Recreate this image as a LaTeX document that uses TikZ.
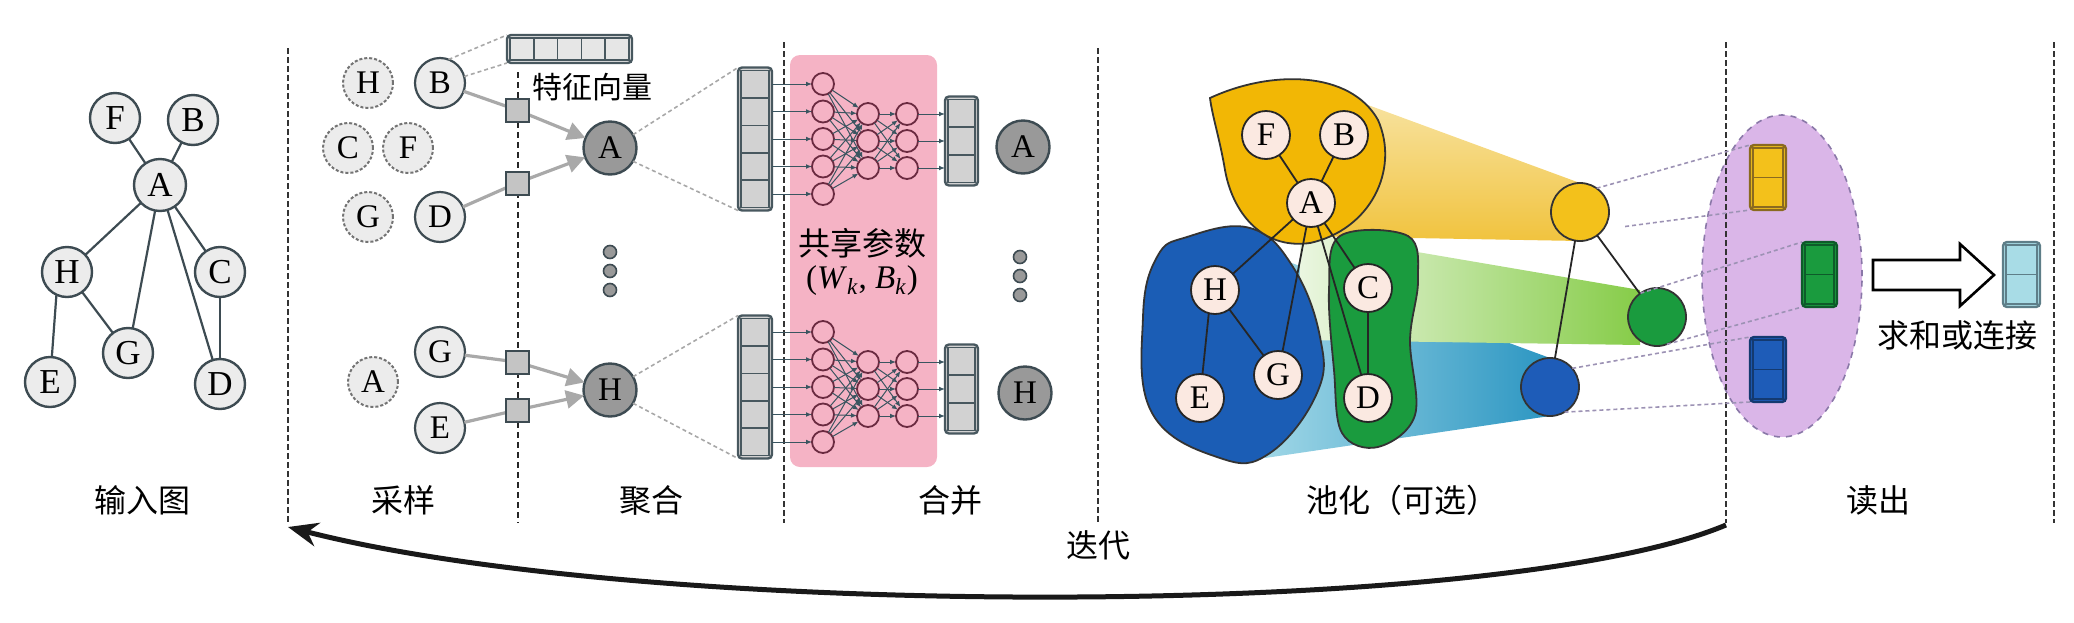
\documentclass[tikz,border=0pt]{standalone}
\usepackage{fontspec}
\setmainfont{Liberation Serif}
\newfontfamily\cjk{Noto Sans CJK SC}
\usetikzlibrary{arrows.meta,shapes.geometric,calc}
\definecolor{nodegray}{HTML}{ECECEC}
\definecolor{nodeline}{HTML}{3D4B52}
\definecolor{darknode}{HTML}{999999}
\definecolor{sqfill}{HTML}{C4C4C4}
\definecolor{arrowgray}{HTML}{A9A9A9}
\definecolor{projgray}{HTML}{A8A8A8}
\definecolor{vecline}{HTML}{48585F}
\definecolor{vecfill}{HTML}{D2D2D2}
\definecolor{fvfill}{HTML}{E6E6E6}
\definecolor{pinkbg}{HTML}{F5B3C5}
\definecolor{nncirc}{HTML}{6A2A40}
\definecolor{nnline}{HTML}{3A5560}
\definecolor{peach}{HTML}{FBE9E1}
\definecolor{blobyellow}{HTML}{F2B705}
\definecolor{blobblue}{HTML}{1B5DB5}
\definecolor{blobgreen}{HTML}{1A9B3E}
\definecolor{circY}{HTML}{F3C11B}
\definecolor{circG}{HTML}{1A9B3E}
\definecolor{circB}{HTML}{1E5CB8}
\definecolor{lilac}{HTML}{DAB6E8}
\definecolor{ellline}{HTML}{8A78A8}
\definecolor{rdline}{HTML}{9C92B4}
\definecolor{resfill}{HTML}{A8DCE6}
\definecolor{resline}{HTML}{5E7E88}
\definecolor{yfanT}{HTML}{F8E7AE}
\definecolor{yfanB}{HTML}{F1C33E}
\definecolor{gfanL}{HTML}{EAF6E0}
\definecolor{gfanR}{HTML}{86CC48}
\definecolor{bfanL}{HTML}{9ED6E6}
\definecolor{bfanR}{HTML}{2C96C2}
\definecolor{vyline}{HTML}{8A6A20}
\definecolor{vgline}{HTML}{0E5A2A}
\definecolor{vbline}{HTML}{143A70}

% horizontal cells: name, cx, cy, w, h, n, fill, line
\newcommand{\hvecbox}[8]{%
  \node[vecbox, draw=#8, fill=#7, minimum width={(#4)*0.5pt}, minimum height={(#5)*0.5pt}] (#1) at (#2,#3) {};
  \pgfmathsetmacro\vxa{#2-#4/2+3}\pgfmathsetmacro\vya{#3-#5/2+3}%
  \pgfmathsetmacro\vxb{#2+#4/2-3}\pgfmathsetmacro\vyb{#3+#5/2-3}%
  \draw[cellline, draw=#8] (\vxa,\vya) rectangle (\vxb,\vyb);
  \pgfmathtruncatemacro\vnm{#6-1}%
  \foreach \k in {1,...,\vnm}{\pgfmathsetmacro\vxk{\vxa+\k*(\vxb-\vxa)/#6}\draw[cellline, draw=#8] (\vxk,\vya) -- (\vxk,\vyb);}
}
% vertical cells
\newcommand{\vvecbox}[8]{%
  \node[vecbox, draw=#8, fill=#7, minimum width={(#4)*0.5pt}, minimum height={(#5)*0.5pt}] (#1) at (#2,#3) {};
  \pgfmathsetmacro\vxa{#2-#4/2+3}\pgfmathsetmacro\vya{#3-#5/2+3}%
  \pgfmathsetmacro\vxb{#2+#4/2-3}\pgfmathsetmacro\vyb{#3+#5/2-3}%
  \draw[cellline, draw=#8] (\vxa,\vya) rectangle (\vxb,\vyb);
  \pgfmathtruncatemacro\vnm{#6-1}%
  \foreach \k in {1,...,\vnm}{\pgfmathsetmacro\vyk{\vya+\k*(\vyb-\vya)/#6}\draw[cellline, draw=#8] (\vxa,\vyk) -- (\vxb,\vyk);}
}

\begin{document}
\begin{tikzpicture}[x=0.5pt,y=-0.5pt,
  every node/.style={inner sep=0pt, outer sep=0pt},
  gnode/.style={circle, draw=nodeline, line width=1.2pt, fill=nodegray, minimum size=25pt, font=\fontsize{17.5}{17.5}\selectfont},
  gedge/.style={draw=nodeline, line width=1.1pt},
  snode/.style={circle, draw=nodeline, line width=1.1pt, fill=nodegray, minimum size=25pt, font=\fontsize{16.5}{16.5}\selectfont},
  sdash/.style={snode, draw=black!55, dash pattern=on 1.5pt off 1pt, line width=1pt},
  tnode/.style={circle, draw=nodeline, line width=1.2pt, fill=darknode, minimum size=26.5pt, font=\fontsize{16.5}{16.5}\selectfont},
  sqbox/.style={rectangle, draw=nodeline, line width=1pt, fill=sqfill, minimum size=11.5pt},
  garrow/.style={draw=arrowgray, line width=1.6pt, -{Triangle[length=9pt,width=9pt]}},
  dotn/.style={circle, draw=nodeline, fill=darknode, line width=0.8pt, minimum size=6.5pt},
  proj/.style={draw=projgray, line width=0.8pt, dash pattern=on 2pt off 1.5pt},
  rproj/.style={draw=rdline, line width=0.8pt, dash pattern=on 2pt off 1.5pt},
  sepline/.style={draw=black!80, line width=1.3pt, dash pattern=on 3pt off 1.5pt},
  thinsep/.style={draw=black!85, line width=1pt, dash pattern=on 3pt off 2pt},
  vecbox/.style={rectangle, rounded corners=2pt, line width=1.2pt},
  cellline/.style={line width=0.8pt},
  nnc/.style={circle, draw=nncirc, line width=0.9pt, minimum size=11pt},
  nnarr/.style={draw=nnline, line width=0.5pt, -{Latex[length=3pt,width=2.4pt]}},
  pnode/.style={circle, draw=black!85, line width=0.9pt, fill=peach, minimum size=24pt, font=\fontsize{16.5}{16.5}\selectfont},
  pedge/.style={draw=black!85, line width=0.9pt},
  blob/.style={draw=black!80, line width=0.9pt},
  pool/.style={circle, draw=black!80, line width=0.9pt, minimum size=29pt},
  cjklab/.style={font=\cjk\fontsize{16}{16}\selectfont},
  iterarrow/.style={draw=black!90, line width=2.5pt, -{Stealth[length=15pt,width=12pt]}}
]
\useasboundingbox (0,0) rectangle (2074,622);

% ---------- separators ----------
\draw[sepline] (288,48) -- (288,523);
\draw[thinsep] (518,72) -- (518,523);
\draw[sepline] (784,42) -- (784,523);
\draw[sepline] (1098,48) -- (1098,523);
\draw[sepline] (2054,42) -- (2054,523);

% ---------- input graph ----------
\node[gnode] (gF) at (115,118) {F};
\node[gnode] (gB) at (193,120) {B};
\node[gnode, minimum size=26pt] (gA) at (160,185) {A};
\node[gnode] (gH) at (67,272) {H};
\node[gnode] (gC) at (220,272) {C};
\node[gnode] (gG) at (128,353) {G};
\node[gnode] (gE) at (50,382) {E};
\node[gnode] (gD) at (220,384) {D};
\draw[gedge] (gF) -- (gA);
\draw[gedge] (gB) -- (gA);
\draw[gedge] (gA) -- (gH);
\draw[gedge] (gA) -- (gG);
\draw[gedge] (gA) -- (gD);
\draw[gedge] (gA) -- (gC);
\draw[gedge] (gH.-115) -- (gE);
\draw[gedge] (gH) -- (gG);
\draw[gedge] (gC) -- (gD);

% ---------- sampling ----------
\node[sdash] (sH) at (368,83) {H};
\node[snode] (sB) at (440,83) {B};
\node[sdash] (sC) at (348,148) {C};
\node[sdash] (sF) at (408,148) {F};
\node[sdash] (sG) at (368,217) {G};
\node[snode] (sD) at (440,217) {D};
\node[snode] (sG2) at (440,352) {G};
\node[sdash] (sA) at (373,382) {A};
\node[snode] (sE) at (440,428) {E};
\node[tnode] (tA) at (610,148) {A};
\node[tnode] (tH) at (610,390) {H};
\node[sqbox] (q1) at (517,110) {};
\node[sqbox] (q2) at (517,183) {};
\node[sqbox] (q3) at (517,362) {};
\node[sqbox] (q4) at (517,410) {};
\draw[garrow] (sB) -- (q1) -- (tA);
\draw[garrow] (sD) -- (q2) -- (tA);
\draw[garrow] (sG2) -- (q3) -- (tH);
\draw[garrow] (sE) -- (q4) -- (tH);
\node[sqbox] at (q1) {};
\node[sqbox] at (q2) {};
\node[sqbox] at (q3) {};
\node[sqbox] at (q4) {};
\node[dotn] (d1) at (610,252) {};
\node[dotn] (d2) at (610,271) {};
\node[dotn] (d3) at (610,290) {};
\hvecbox{fv}{569.5}{49}{125}{28}{5}{fvfill}{vecline}
\draw[proj] (sB.70) -- (fv.north west);
\draw[proj] (sB.15) -- (fv.south west);
\node[cjklab, font=\cjk\fontsize{15}{15}\selectfont] (fvlab) at (592,87) {特征向量};

% ---------- aggregation / combine ----------
\node[fill=pinkbg, rounded corners=5pt, minimum width=73.5pt, minimum height=206pt] (share) at (863.5,261) {};
\vvecbox{V1}{755}{139}{34}{143}{5}{vecfill}{vecline}
\vvecbox{V2}{755}{387}{34}{143}{5}{vecfill}{vecline}
\vvecbox{O1}{961.5}{141}{33}{89}{3}{vecfill}{vecline}
\vvecbox{O2}{961.5}{389}{33}{89}{3}{vecfill}{vecline}
\draw[proj] (tA.30) -- (V1.north west);
\draw[proj] (tA.-30) -- (V1.south west);
\draw[proj] (tH.30) -- (V2.north west);
\draw[proj] (tH.-30) -- (V2.south west);

\foreach \off/\blk/\vin/\vout in {0/a/V1/O1, 248/b/V2/O2}{
  \foreach \i/\yy in {1/84,2/111.5,3/139,4/166.5,5/194}{
    \node[nnc] (n\blk1\i) at ({823},{\yy+\off}) {};
    \draw[nnarr] (\vin.east |- n\blk1\i) -- (n\blk1\i);
  }
  \foreach \j/\yy in {1/114,2/141,3/168}{
    \node[nnc] (n\blk2\j) at ({868},{\yy+\off}) {};
    \node[nnc] (n\blk3\j) at ({907},{\yy+\off}) {};
    \draw[nnarr] (n\blk3\j) -- (\vout.west |- n\blk3\j);
  }
  \foreach \i in {1,...,5}{\foreach \j in {1,2,3}{\draw[nnarr] (n\blk1\i) -- (n\blk2\j);}}
  \foreach \i in {1,2,3}{\foreach \j in {1,2,3}{\draw[nnarr] (n\blk2\i) -- (n\blk3\j);}}
}
\node[cjklab] (shtxt) at (862,243) {共享参数};
\node[font=\fontsize{16.5}{16.5}\selectfont] (wb) at (862,281) {(\textit{W}\textsubscript{\textit{k}}, \textit{B}\textsubscript{\textit{k}})};
\node[tnode] (oA) at (1023,147) {A};
\node[tnode] (oH) at (1025,393) {H};
\node[dotn] (e1) at (1020,257) {};
\node[dotn] (e2) at (1020,276) {};
\node[dotn] (e3) at (1020,295) {};

% ---------- pooling ----------
\shade[left color=bfanL, right color=bfanR] (1270,255) -- (1550,358) -- (1550,416) -- (1265,458) -- cycle;
\shade[left color=gfanL, right color=gfanR] (1300,232) -- (1640,290) -- (1640,345) -- (1300,340) -- cycle;
\shade[top color=yfanT, bottom color=yfanB] (1300,80) -- (1580,183) -- (1580,241) -- (1300,236) -- cycle;

\draw[blob, fill=blobblue] plot[smooth cycle, tension=0.7] coordinates {(1187,237) (1250,228) (1293,267) (1320,337) (1317,393) (1270,453) (1220,458) (1152,413) (1143,317) (1157,257)};
\draw[blob, fill=blobgreen] plot[smooth cycle, tension=0.6] coordinates {(1340,236) (1408,236) (1418,280) (1410,340) (1415,415) (1378,447) (1342,433) (1334,370) (1329,290)};
\draw[blob, fill=blobyellow] (1210,98) .. controls (1270,70) and (1350,70) .. (1378,120) .. controls (1400,170) and (1370,230) .. (1310,243) .. controls (1260,250) and (1232,210) .. (1225,170) .. controls (1220,140) and (1212,115) .. cycle;

\node[pnode] (pF) at (1266,135) {F};
\node[pnode] (pB) at (1344,135) {B};
\node[pnode] (pA) at (1311,203) {A};
\node[pnode] (pH) at (1215,290) {H};
\node[pnode] (pC) at (1368,288) {C};
\node[pnode] (pG) at (1278,375) {G};
\node[pnode] (pE) at (1200,398) {E};
\node[pnode] (pD) at (1368,398) {D};
\draw[pedge] (pF) -- (pA);
\draw[pedge] (pB) -- (pA);
\draw[pedge] (pA) -- (pH);
\draw[pedge] (pA) -- (pG);
\draw[pedge] (pA) -- (pD);
\draw[pedge] (pA) -- (pC);
\draw[pedge] (pH.-105) -- (pE);
\draw[pedge] (pH) -- (pG);
\draw[pedge] (pC) -- (pD);

% ---------- readout ----------
\node[ellipse, draw=ellline, dashed, line width=0.8pt, fill=lilac, minimum width=80pt, minimum height=161pt] (ro) at (1782,276) {};
\vvecbox{rY}{1768}{177.5}{36}{65}{2}{circY}{vyline}
\vvecbox{rG}{1819.5}{274.5}{35}{65}{2}{blobgreen}{vgline}
\vvecbox{rB}{1768}{369.5}{36}{65}{2}{circB}{vbline}
\vvecbox{res}{2021.5}{274.5}{37}{65}{2}{resfill}{resline}
\draw[sepline] (1726,42) -- (1726,523);

\node[pool, fill=circB] (qB) at (1550,387) {};
\node[pool, fill=circG] (qG) at (1657,317) {};
\node[pool, fill=circY] (qY) at (1580,212) {};
\draw[rproj] (qY.55) -- (rY.north west);
\draw[rproj] ([xshift=10pt]qY.-30) -- (rY.south west);
\draw[rproj] (qG.125) -- (rG.north west);
\draw[rproj] (qG.-70) -- (rG.south west);
\draw[rproj] (qB.40) -- (rB.north west);
\draw[rproj] (qB.-60) -- (rB.south west);
\draw[pedge] (qY) -- (qG);
\draw[pedge] (qY) -- (qB);

\draw[line width=1.3pt, fill=white, line join=miter] (1873,260) -- (1960,260) -- (1960,244) -- (1994,275) -- (1960,306) -- (1960,290) -- (1873,290) -- cycle;
\node[cjklab] (sumlab) at (1957,335) {求和或连接};

% ---------- labels ----------
\node[cjklab] (lab1) at (142,500) {输入图};
\node[cjklab] (lab2) at (403,500) {采样};
\node[cjklab] (lab3) at (651,500) {聚合};
\node[cjklab] (lab4) at (950,500) {合并};
\node[cjklab] (lab5) at (1402,500) {池化（可选）};
\node[cjklab] (lab6) at (1878,500) {读出};

\coordinate (itS) at (1726,525);
\coordinate (itE) at (288,527);
\draw[iterarrow] (itS) .. controls (1500,620) and (650,620) .. (itE);
\node[cjklab] (itlab) at (1098,545) {迭代};
\end{tikzpicture}
\end{document}
